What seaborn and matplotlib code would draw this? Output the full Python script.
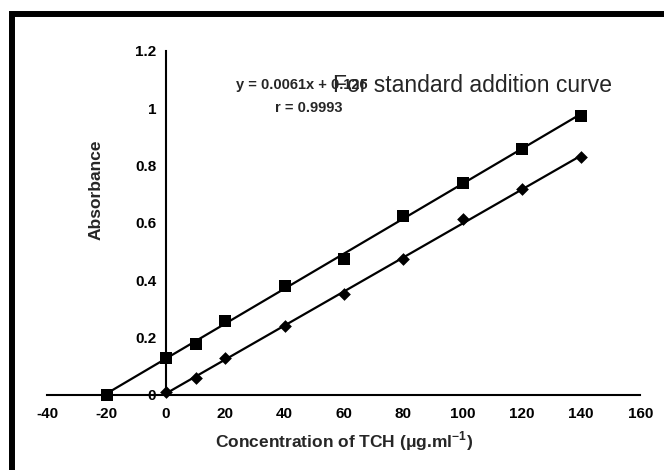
import numpy as np
import pandas as pd
import matplotlib
matplotlib.use("Agg")
import matplotlib.pyplot as plt
from matplotlib.patches import Rectangle
import seaborn as sns

# Standard addition series (squares) and plain calibration series (diamonds)
conc_added = [-20, 0, 10, 20, 40, 60, 80, 100, 120, 140]
abs_added = [0.0, 0.127, 0.178, 0.258, 0.380, 0.473, 0.625, 0.740, 0.857, 0.974]

conc_std = [0, 10, 20, 40, 60, 80, 100, 120, 140]
abs_std = [0.008, 0.059, 0.127, 0.240, 0.351, 0.473, 0.613, 0.717, 0.829]

# Fitted standard addition line as reported
slope = 0.0061
intercept = 0.126
r_value = 0.9993

x_ticks = [-40, -20, 0, 20, 40, 60, 80, 100, 120, 140, 160]
y_ticks = [0, 0.2, 0.4, 0.6, 0.8, 1.0, 1.2]
y_tick_labels = ["0", "0.2", "0.4", "0.6", "0.8", "1", "1.2"]

sns.set_style("white")
plt.rcParams["font.family"] = ["Liberation Sans", "DejaVu Sans"]
plt.rcParams["mathtext.fontset"] = "custom"
plt.rcParams["mathtext.rm"] = "Liberation Sans"
plt.rcParams["mathtext.bf"] = "Liberation Sans:bold"

fig = plt.figure(figsize=(6.64, 4.70), dpi=100)
ax = fig.add_axes([47.5 / 664, 75.4 / 470, 592.9 / 664, 343.8 / 470])

df_add = pd.DataFrame({"conc": conc_added, "absorb": abs_added})
df_std = pd.DataFrame({"conc": conc_std, "absorb": abs_std})

# Trend lines
fit_x = np.array([min(conc_added), max(conc_added)])
line_add = pd.DataFrame({"conc": fit_x, "absorb": slope * fit_x + intercept})
sns.lineplot(data=line_add, x="conc", y="absorb", color="black", lw=1.6,
             ax=ax, zorder=2)

p = np.polyfit(conc_std, abs_std, 1)
fit_xs = np.array([min(conc_std), max(conc_std)])
line_std = pd.DataFrame({"conc": fit_xs, "absorb": np.polyval(p, fit_xs)})
sns.lineplot(data=line_std, x="conc", y="absorb", color="black", lw=1.6,
             ax=ax, zorder=2)

# Data points
sns.scatterplot(data=df_add, x="conc", y="absorb", marker="s", s=80,
                color="black", edgecolor="black", linewidth=0, ax=ax,
                zorder=3, clip_on=False)
sns.scatterplot(data=df_std, x="conc", y="absorb", marker="D", s=42,
                color="black", edgecolor="black", linewidth=0, ax=ax,
                zorder=3, clip_on=False)

ax.set_xlim(-40, 160)
ax.set_ylim(0, 1.2)

# Axes crossing at the origin
for side in ["top", "right"]:
    ax.spines[side].set_visible(False)
ax.spines["left"].set_position(("data", 0))
ax.spines["bottom"].set_position(("data", 0))
for side in ["left", "bottom"]:
    ax.spines[side].set_linewidth(1.5)
    ax.spines[side].set_color("black")

ax.set_xticks(x_ticks)
ax.set_xticklabels([str(v) for v in x_ticks])
ax.set_yticks(y_ticks)
ax.set_yticklabels(y_tick_labels)
ax.tick_params(axis="both", direction="out", length=4, width=1.5,
               color="black", labelsize=11, labelcolor="black")
ax.tick_params(axis="x", pad=5)
ax.tick_params(axis="y", pad=3)
for lab in ax.get_xticklabels() + ax.get_yticklabels():
    lab.set_fontweight("bold")

ax.set_xlabel("Concentration of TCH (μg.ml$^{\\mathbf{-1}}$)",
              fontsize=12.5, fontweight="bold")
ax.set_ylabel("Absorbance", fontsize=12.5, fontweight="bold")
ax.yaxis.set_label_coords(0.095, 0.595, transform=ax.transAxes)
ax.xaxis.set_label_coords(0.5, -0.1, transform=ax.transAxes)

# Regression annotation and caption
fig.text(236 / 664, 1 - 85 / 470, f"y = {slope}x + {intercept}",
         fontsize=10.5, fontweight="bold", ha="left", va="center")
fig.text(275 / 664, 1 - 108 / 470, f"r = {r_value}",
         fontsize=10.5, fontweight="bold", ha="left", va="center")
fig.text(333 / 664, 1 - 85 / 470, "For standard addition curve",
         fontsize=16.5, ha="left", va="center")

# Heavy frame along the top and left edges
frame = Rectangle((12 / 664, -0.2), 1.5, 1.2 - 14 / 470,
                  transform=fig.transFigure, fill=False, lw=4.3,
                  edgecolor="black", clip_on=False)
fig.add_artist(frame)

fig.savefig("out.png", dpi=100)
